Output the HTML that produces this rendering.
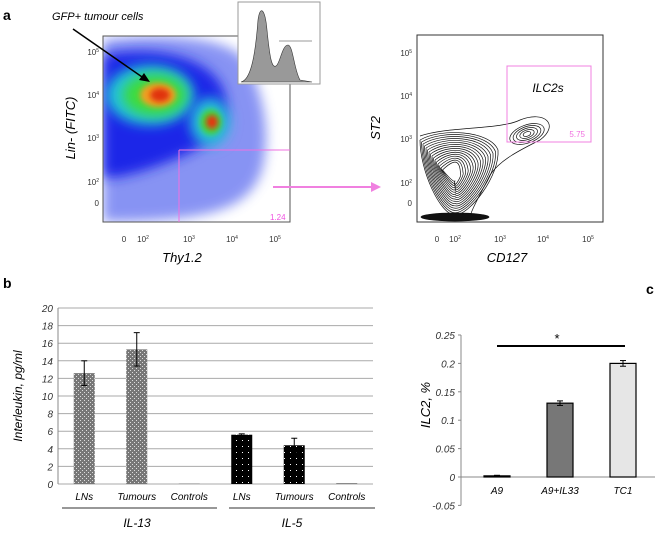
<!DOCTYPE html>
<html><head><meta charset="utf-8"><style>
body{margin:0;background:#fff;width:660px;height:532px;overflow:hidden;font-family:"Liberation Sans",sans-serif}
svg text{font-family:"Liberation Sans",sans-serif}
</style></head><body>
<svg id="fig" width="660" height="532" viewBox="0 0 660 532">
<defs>
<filter id="bl" x="-50%" y="-50%" width="200%" height="200%"><feGaussianBlur stdDeviation="6"/></filter>
<filter id="bl2" x="-50%" y="-50%" width="200%" height="200%"><feGaussianBlur stdDeviation="3"/></filter>
<pattern id="dotg" width="4" height="4" patternUnits="userSpaceOnUse"><rect width="4" height="4" fill="#777"/><rect width="1" height="1" fill="#ddd"/><rect x="2" y="2" width="1" height="1" fill="#ddd"/></pattern>
<pattern id="dotk" width="6" height="6" patternUnits="userSpaceOnUse"><rect width="6" height="6" fill="#000"/><rect x="2" y="2" width="1" height="1" fill="#fff"/></pattern>
<clipPath id="cpA"><rect x="103" y="36" width="187" height="186"/></clipPath>
</defs>

<!-- Panel a -->
<text x="3" y="20" font-size="14" font-weight="bold">a</text>
<g clip-path="url(#cpA)">
<rect x="103" y="36" width="187" height="186" fill="#fff"/>
<path d="M103,40 C150,34 225,34 245,60 C262,90 272,130 262,170 C250,205 220,222 103,222 Z" fill="#6070f0" opacity="0.75" filter="url(#bl)"/>
<path d="M103,55 C150,45 215,55 225,95 C232,135 200,150 160,165 C125,178 103,180 103,175 Z" fill="#1a28e8" filter="url(#bl)"/>
<ellipse cx="150" cy="95" rx="44" ry="30" fill="#24c4d8" filter="url(#bl)"/>
<ellipse cx="155" cy="95" rx="32" ry="21" fill="#3ddc3d" filter="url(#bl)"/>
<ellipse cx="158" cy="95" rx="18" ry="12" fill="#f2a020" filter="url(#bl2)"/>
<ellipse cx="160" cy="95" rx="10" ry="7" fill="#e03010" filter="url(#bl2)"/>
<ellipse cx="210" cy="122" rx="20" ry="24" fill="#26c0d8" filter="url(#bl)"/>
<ellipse cx="211" cy="122" rx="11" ry="13" fill="#40d840" filter="url(#bl2)"/>
<ellipse cx="212" cy="122" rx="6" ry="7" fill="#e83010" filter="url(#bl2)"/>
</g>
<rect x="103" y="36" width="187" height="186" fill="none" stroke="#555" stroke-width="1"/>
<line x1="179" y1="150" x2="290" y2="150" stroke="#f070e0" stroke-width="1"/>
<line x1="179" y1="150" x2="179" y2="222" stroke="#f070e0" stroke-width="1"/>
<text x="270" y="220" font-size="8" fill="#f050e0">1.24</text>
<g font-size="8" fill="#333" text-anchor="end">
<text x="99" y="55">10<tspan font-size="5" dy="-3">5</tspan></text>
<text x="99" y="98">10<tspan font-size="5" dy="-3">4</tspan></text>
<text x="99" y="141">10<tspan font-size="5" dy="-3">3</tspan></text>
<text x="99" y="185">10<tspan font-size="5" dy="-3">2</tspan></text>
<text x="99" y="206">0</text>
</g>
<g font-size="8" fill="#333" text-anchor="middle">
<text x="124" y="242">0</text><text x="143" y="242">10<tspan font-size="5" dy="-3">2</tspan></text>
<text x="189" y="242">10<tspan font-size="5" dy="-3">3</tspan></text><text x="232" y="242">10<tspan font-size="5" dy="-3">4</tspan></text>
<text x="275" y="242">10<tspan font-size="5" dy="-3">5</tspan></text>
</g>
<text x="182" y="262" font-size="13" font-style="italic" text-anchor="middle">Thy1.2</text>
<text transform="translate(75,128) rotate(-90)" font-size="13" font-style="italic" text-anchor="middle">Lin- (FITC)</text>
<text x="52" y="20" font-size="11" font-style="italic">GFP+ tumour cells</text>
<line x1="73" y1="29" x2="145" y2="79" stroke="#000" stroke-width="1.5"/>
<polygon points="150,82 139,80 144,73" fill="#000"/>
<g>
<rect x="238" y="2" width="82" height="82" fill="#fff" stroke="#999"/>
<path d="M241,82 C250,80 255,60 258,20 C260,5 265,8 267,30 C270,60 272,68 276,66 C280,64 282,45 288,45 C293,45 294,70 300,80 L312,82 Z" fill="#999" stroke="#333" stroke-width="0.6"/>
<line x1="279" y1="41" x2="312" y2="41" stroke="#333" stroke-width="0.6"/>
</g>
<line x1="273" y1="187" x2="374" y2="187" stroke="#f080e0" stroke-width="2"/>
<polygon points="381,187 371,182 371,192" fill="#f080e0"/>

<rect x="417" y="35" width="186" height="187" fill="#fff" stroke="#333"/>
<g fill="none" stroke="#111" stroke-width="0.7" id="contours"></g>
<rect x="507" y="66" width="84" height="76" fill="none" stroke="#f080e0"/>
<text x="548" y="92" font-size="12" font-style="italic" text-anchor="middle">ILC2s</text>
<text x="585" y="137" font-size="8" fill="#f070e0" text-anchor="end">5.75</text>
<g font-size="8" fill="#333" text-anchor="end">
<text x="412" y="56">10<tspan font-size="5" dy="-3">5</tspan></text>
<text x="412" y="99">10<tspan font-size="5" dy="-3">4</tspan></text>
<text x="412" y="142">10<tspan font-size="5" dy="-3">3</tspan></text>
<text x="412" y="186">10<tspan font-size="5" dy="-3">2</tspan></text>
<text x="412" y="206">0</text>
</g>
<g font-size="8" fill="#333" text-anchor="middle">
<text x="437" y="242">0</text><text x="455" y="242">10<tspan font-size="5" dy="-3">2</tspan></text>
<text x="500" y="242">10<tspan font-size="5" dy="-3">3</tspan></text><text x="543" y="242">10<tspan font-size="5" dy="-3">4</tspan></text>
<text x="588" y="242">10<tspan font-size="5" dy="-3">5</tspan></text>
</g>
<text x="507" y="262" font-size="13" font-style="italic" text-anchor="middle">CD127</text>
<text transform="translate(380,128) rotate(-90)" font-size="13" font-style="italic" text-anchor="middle">ST2</text>

<text x="3" y="288" font-size="14" font-weight="bold">b</text>
<g id="chartB"></g>
<text transform="translate(22,396) rotate(-90)" font-size="12" font-style="italic" text-anchor="middle">Interleukin, pg/ml</text>
<line x1="62" y1="508" x2="217" y2="508" stroke="#777" stroke-width="1.5"/>
<line x1="229" y1="508" x2="375" y2="508" stroke="#777" stroke-width="1.5"/>
<text x="137" y="527" font-size="12" font-style="italic" text-anchor="middle">IL-13</text>
<text x="292" y="527" font-size="12" font-style="italic" text-anchor="middle">IL-5</text>

<text x="646" y="294" font-size="14" font-weight="bold">c</text>
<g id="chartC"></g>
<text transform="translate(430,405) rotate(-90)" font-size="13" font-style="italic" text-anchor="middle">ILC2, %</text>
<line x1="497" y1="346" x2="625" y2="346" stroke="#000" stroke-width="2"/>
<text x="557" y="343" font-size="13" text-anchor="middle">*</text>
</svg>
<script>
var NS="http://www.w3.org/2000/svg";
function mk(p,t,a){var e=document.createElementNS(NS,t);for(var k in a)e.setAttribute(k,a[k]);p.appendChild(e);return e;}

var cg=document.getElementById('contours');
for(var i=0;i<16;i++){
  var c=mk(cg,'path',{d:'M'+(420+i*1.5)+','+(140+i*2)+' C'+(440+i)+','+(128+i*2)+' '+(490-i*2)+','+(130+i*2)+' '+(498-i*2.5)+','+(150+i*1.6)+' C'+(500-i*2.5)+','+(175)+' '+(470-i*1.2)+','+(215-i*1.5)+' '+(455)+','+(215-i*2.3)+' C'+(440+i)+','+(215-i*2)+' '+(420+i*1.5)+','+(170)+' '+(420+i*1.5)+','+(140+i*2)});
  
  
}
for(var j=0;j<5;j++){
  var c2=mk(cg,'ellipse',{cx:527,cy:134,rx:18-j*3.5,ry:9-j*1.7,transform:'rotate(-20 527 134)'});
  
  
}
mk(cg,'path',{d:'M420,136 C450,126 500,130 520,120 C545,110 560,125 540,140 C520,150 500,160 490,175 C480,195 470,212 470,218'});
var bd=mk(cg,'ellipse',{cx:455,cy:217,rx:34,ry:4,fill:'#111'});



var bCats=["LNs","Tumours","Controls","LNs","Tumours","Controls"];
var bVals=[12.6,15.3,0.05,5.6,4.4,0.05];
var bErr=[1.4,1.9,0,0.1,0.8,0];
var bTicks=[0,2,4,6,8,10,12,14,16,18,20];
var gB=document.getElementById('chartB');
var bx0=58,bx1=373,by0=484,by1=308;
function yB(v){return by0-(v/20)*(by0-by1);}
function xB(i){return bx0+(i+0.5)*(bx1-bx0)/bCats.length;}
bTicks.forEach(function(t){
  var l=mk(gB,'line',{x1:bx0,x2:bx1,y1:yB(t),y2:yB(t),stroke:'#aaa','stroke-width':1});
  
  
  var tx=mk(gB,'text',{x:bx0-5,y:yB(t)+4,'font-size':10,'font-style':'italic','text-anchor':'end',fill:'#333'});
  tx.textContent=t;
  
  
});
mk(gB,'line',{x1:bx0,x2:bx0,y1:by1,y2:by0,stroke:'#888'});
bVals.forEach(function(v,i){
  var cx=xB(i),w=21;
  var r=mk(gB,'rect',{x:cx-w/2,y:yB(v),width:w,height:by0-yB(v),fill:i<3?'url(#dotg)':'url(#dotk)'});
  
  
  if(bErr[i]>0){
    var e1=yB(v+bErr[i]),e2=yB(v-bErr[i]);
    mk(gB,'line',{x1:cx,x2:cx,y1:e1,y2:e2,stroke:'#000'});
    mk(gB,'line',{x1:cx-3,x2:cx+3,y1:e1,y2:e1,stroke:'#000'});
    mk(gB,'line',{x1:cx-3,x2:cx+3,y1:e2,y2:e2,stroke:'#000'});
  }
  var tx=mk(gB,'text',{x:cx,y:500,'font-size':10,'font-style':'italic','text-anchor':'middle'});
  tx.textContent=bCats[i];
  
  
});

var cCats=["A9","A9+IL33","TC1"];
var cVals=[0.002,0.13,0.2];
var cErr=[0.001,0.004,0.005];
var cTicks=[-0.05,0,0.05,0.1,0.15,0.2,0.25];
var cFill=["#555","#777","#e6e6e6"];
var gC=document.getElementById('chartC');
var cx0=461,cx1=655,cy0=477,cyTop=335;
function yC(v){return cy0-(v/0.25)*(cy0-cyTop);}
function xC(i){return 497+i*63;}
mk(gC,'line',{x1:cx0,x2:cx0,y1:yC(0.25),y2:yC(-0.05),stroke:'#888'});
mk(gC,'line',{x1:cx0,x2:cx1,y1:yC(0),y2:yC(0),stroke:'#888'});
cTicks.forEach(function(t){
  mk(gC,'line',{x1:cx0-3,x2:cx0,y1:yC(t),y2:yC(t),stroke:'#888'});
  var tx=mk(gC,'text',{x:cx0-6,y:yC(t)+4,'font-size':10,'font-style':'italic','text-anchor':'end',fill:'#333'});
  tx.textContent=t;
  
  
});
cVals.forEach(function(v,i){
  var cx=xC(i),w=26;
  var r=mk(gC,'rect',{x:cx-w/2,y:yC(v),width:w,height:cy0-yC(v),fill:i==0?'#333':cFill[i],stroke:'#000','stroke-width':1.2});
  
  
  var e1=yC(v+cErr[i]),e2=yC(v-cErr[i]);
  mk(gC,'line',{x1:cx,x2:cx,y1:e1,y2:e2,stroke:'#000'});
  mk(gC,'line',{x1:cx-3,x2:cx+3,y1:e1,y2:e1,stroke:'#000'});
  mk(gC,'line',{x1:cx-3,x2:cx+3,y1:e2,y2:e2,stroke:'#000'});
  var tx=mk(gC,'text',{x:cx,y:494,'font-size':10,'font-style':'italic','text-anchor':'middle'});
  tx.textContent=cCats[i];
  
  
});
</script>
</body></html>
